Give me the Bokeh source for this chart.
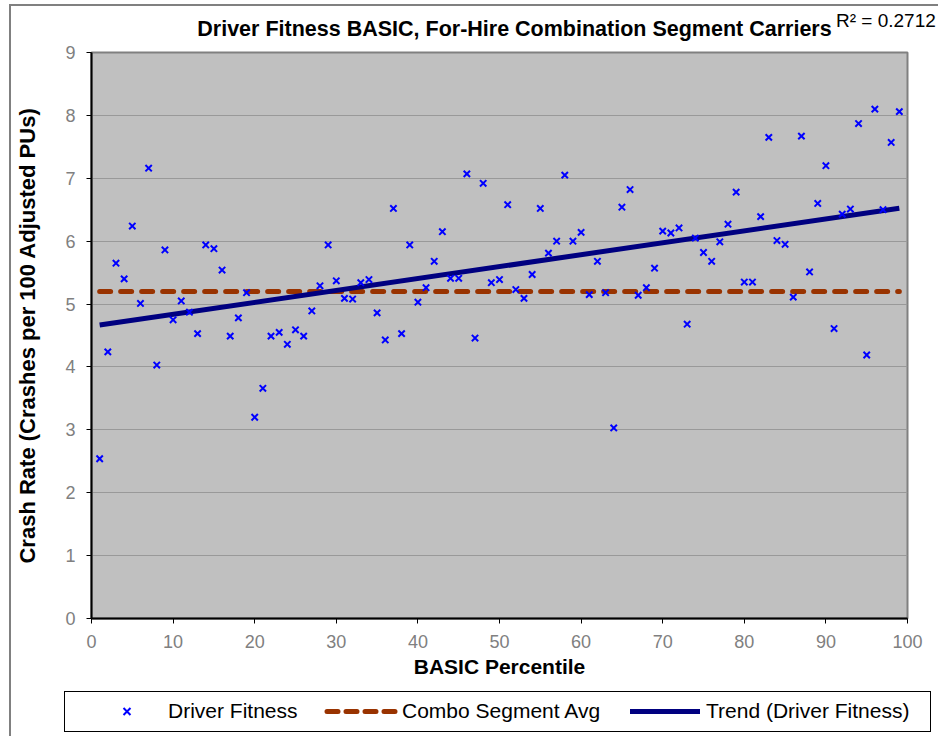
import numpy as np
from bokeh.plotting import figure
from bokeh.layouts import column
from bokeh.models import ColumnDataSource, Div, FixedTicker, Range1d
from bokeh.embed import file_html
from bokeh.resources import INLINE

# ---- data ----
percentile = list(range(1, 100))
crash_rate = [
    2.54, 4.24, 5.65, 5.40, 6.24, 5.01, 7.16, 4.03, 5.86, 4.75,
    5.05, 4.87, 4.53, 5.94, 5.88, 5.54, 4.49, 4.78, 5.18, 3.20,
    3.66, 4.49, 4.55, 4.36, 4.59, 4.49, 4.89, 5.29, 5.94, 5.37,
    5.09, 5.08, 5.34, 5.39, 4.86, 4.43, 6.52, 4.53, 5.94, 5.03,
    5.26, 5.68, 6.15, 5.41, 5.41, 7.07, 4.46, 6.92, 5.34, 5.39,
    6.58, 5.23, 5.09, 5.47, 6.52, 5.81, 6.00, 7.05, 6.00, 6.14,
    5.15, 5.68, 5.18, 3.03, 6.54, 6.82, 5.14, 5.26, 5.57, 6.16,
    6.13, 6.21, 4.68, 6.05, 5.82, 5.68, 5.99, 6.27, 6.78, 5.35,
    5.35, 6.39, 7.65, 6.01, 5.95, 5.11, 7.67, 5.51, 6.60, 7.20,
    4.61, 6.43, 6.51, 7.87, 4.19, 8.10, 6.50, 7.57, 8.06,
]
combo_avg = 5.20
r2_text = "R\u00b2 = 0.2712"
title_text = "Driver Fitness BASIC, For-Hire Combination Segment Carriers"
legend_labels = ["Driver Fitness", "Combo Segment Avg", "Trend (Driver Fitness)"]
x_ticks = list(range(0, 101, 10))
y_ticks = list(range(0, 10))

FONT = "Liberation Sans"
PT_COLOR = "#0000FF"
AVG_COLOR = "#993300"
TREND_COLOR = "#000080"

x = np.array(percentile, dtype=float)
y = np.array(crash_rate, dtype=float)
slope, intercept = np.polyfit(x, y, 1)
trend_x = [x.min(), x.max()]
trend_y = [intercept + slope * v for v in trend_x]

W = 927

# ---------- title strip ----------
top_svg = (
    f'<svg xmlns="http://www.w3.org/2000/svg" width="{W}" height="36" '
    f'style="display:block;font-family:\'{FONT}\',Arial,sans-serif">'
    f'<text x="503.5" y="30" text-anchor="middle" font-size="21.5px" font-weight="bold" '
    f'fill="black">{title_text}</text>'
    f'<text x="825" y="21" font-size="19px" fill="black">{r2_text}</text>'
    f'</svg>'
)
top = Div(text=top_svg, width=W, height=36, margin=(0, 0, 0, 0))

# ---------- main chart ----------
p = figure(
    frame_width=816, frame_height=566, title=None,
    x_range=Range1d(0, 100), y_range=Range1d(0, 9),
    output_backend="svg", toolbar_location=None,
    min_border_left=80, min_border_right=31, min_border_top=10, min_border_bottom=72,
    background_fill_color="#C0C0C0", border_fill_color="white",
    outline_line_color="#808080", outline_line_width=2,
)

for ax in (p.xaxis[0], p.yaxis[0]):
    ax.axis_line_color = "black"
    ax.axis_line_width = 2
    ax.major_tick_line_color = "black"
    ax.major_tick_line_width = 1
    ax.major_tick_out = 5
    ax.major_tick_in = 0
    ax.minor_tick_line_color = None
    ax.major_label_text_font = FONT
    ax.major_label_text_font_size = "18px"
    ax.major_label_text_color = "#808080"
    ax.major_label_standoff = 11
    ax.axis_label_text_font = FONT
    ax.axis_label_text_font_style = "bold"
    ax.axis_label_text_color = "black"

p.xaxis.axis_label_text_font_size = "21px"
p.yaxis.axis_label_text_font_size = "22px"
p.xaxis.ticker = FixedTicker(ticks=x_ticks)
p.yaxis.ticker = FixedTicker(ticks=y_ticks)
p.xaxis.axis_label = "BASIC Percentile"
p.yaxis.axis_label = "Crash Rate (Crashes per 100 Adjusted PUs)"
p.xaxis.axis_label_standoff = 4
p.yaxis.axis_label_standoff = 22

p.xgrid.grid_line_color = None
p.ygrid.grid_line_color = "#999999"
p.ygrid.grid_line_width = 1

src = ColumnDataSource(dict(x=percentile, y=crash_rate))
p.line([percentile[0], percentile[-1]], [combo_avg, combo_avg],
       line_color=AVG_COLOR, line_width=5, line_dash="11 10", line_cap="round")
p.line(trend_x, trend_y, line_color=TREND_COLOR, line_width=5)
p.scatter("x", "y", source=src, marker="x", size=9, line_color=PT_COLOR, line_width=2)

# ---------- legend strip ----------
leg_svg = (
    f'<svg xmlns="http://www.w3.org/2000/svg" width="{W}" height="46" '
    f'style="display:block;font-family:\'{FONT}\',Arial,sans-serif">'
    f'<rect x="53.5" y="1.5" width="866" height="40" fill="white" stroke="black" stroke-width="1"/>'
    f'<path d="M112.5 18 L119.5 25 M112.5 25 L119.5 18" stroke="{PT_COLOR}" stroke-width="2" fill="none"/>'
    f'<text x="157" y="28" font-size="21px" fill="black">{legend_labels[0]}</text>'
    f'<line x1="316" y1="21.5" x2="385" y2="21.5" stroke="{AVG_COLOR}" stroke-width="5" '
    f'stroke-dasharray="11 8" stroke-linecap="round"/>'
    f'<text x="391" y="28" font-size="21px" fill="black">{legend_labels[1]}</text>'
    f'<line x1="619" y1="21.5" x2="689" y2="21.5" stroke="{TREND_COLOR}" stroke-width="5"/>'
    f'<text x="695" y="28" font-size="21px" fill="black">{legend_labels[2]}</text>'
    f'</svg>'
)
leg = Div(text=leg_svg, width=W, height=46, margin=(0, 0, 0, 0))

layout = column(top, p, leg, spacing=0,
                styles={"margin-left": "9px", "margin-top": "4px",
                        "border-left": "2px solid #808080", "border-top": "2px solid #808080"})

open("out.html", "w").write(file_html(layout, INLINE))
